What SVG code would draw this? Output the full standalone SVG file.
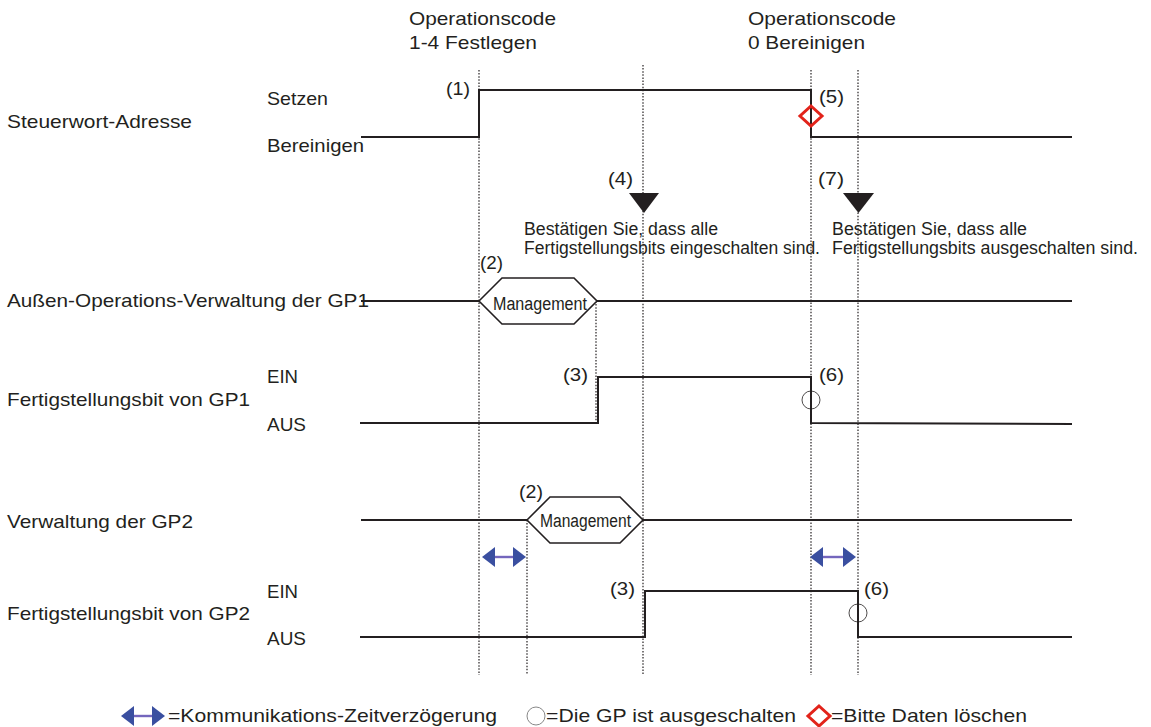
<svg xmlns="http://www.w3.org/2000/svg" width="1151" height="727" viewBox="0 0 1151 727">
<style>
text{font-family:"Liberation Sans",Arial,sans-serif;font-size:19px;fill:#231f20}
.mg{font-size:18px}
.cf{font-size:17.5px}
.sig{fill:none;stroke:#231f20;stroke-width:2}
.dot{fill:none;stroke:#231f20;stroke-width:1.2;stroke-dasharray:1.5 1.6}
.hex{fill:#fff;stroke:#231f20;stroke-width:1.6}
.off{fill:none;stroke:#231f20;stroke-width:0.8}
.clr{fill:none;stroke:#e2231a;stroke-width:3}
.tri{fill:#231f20}
.ah{fill:#3a4fa0}
.sh{stroke:#7466bd;stroke-width:2.4}
</style>
<rect width="1151" height="727" fill="#fff"/>
<g id="connectors">
<line class="dot" x1="479" y1="70" x2="479" y2="675"/>
<line class="dot" x1="527" y1="520" x2="527" y2="675"/>
<line class="dot" x1="596" y1="301" x2="596" y2="423"/>
<line class="dot" x1="643" y1="65" x2="643" y2="675"/>
<line class="dot" x1="811" y1="70" x2="811" y2="675"/>
<line class="dot" x1="858" y1="70" x2="858" y2="675"/>
</g>
<g id="headers">
<text x="409" y="25" textLength="147" lengthAdjust="spacingAndGlyphs">Operationscode</text>
<text x="409" y="49" textLength="128" lengthAdjust="spacingAndGlyphs">1-4 Festlegen</text>
<text x="748" y="25" textLength="148" lengthAdjust="spacingAndGlyphs">Operationscode</text>
<text x="748" y="49" textLength="117" lengthAdjust="spacingAndGlyphs">0 Bereinigen</text>
</g>
<g id="steuerwort">
<text x="7" y="128" textLength="185" lengthAdjust="spacingAndGlyphs">Steuerwort-Adresse</text>
<text x="267" y="105" textLength="61" lengthAdjust="spacingAndGlyphs">Setzen</text>
<text x="267" y="152" textLength="97" lengthAdjust="spacingAndGlyphs">Bereinigen</text>
<polyline class="sig" points="361,137 479,137 479,90 811,90 811,137 1072,137"/>
<text x="446" y="95" textLength="24" lengthAdjust="spacingAndGlyphs">(1)</text>
<text x="819" y="103" textLength="25" lengthAdjust="spacingAndGlyphs">(5)</text>
<polygon class="clr" points="811,106 822,116 811,126 800,116"/>
</g>
<g id="check4">
<text x="608" y="185" textLength="25" lengthAdjust="spacingAndGlyphs">(4)</text>
<polygon class="tri" points="629,193 659,193 644,213"/>
<text class="cf" x="524" y="235" textLength="194" lengthAdjust="spacingAndGlyphs">Bestätigen Sie, dass alle</text>
<text class="cf" x="524" y="254" textLength="296" lengthAdjust="spacingAndGlyphs">Fertigstellungsbits eingeschalten sind.</text>
</g>
<g id="check7">
<text x="818" y="185" textLength="26" lengthAdjust="spacingAndGlyphs">(7)</text>
<polygon class="tri" points="843,193 874,193 858.5,213"/>
<text class="cf" x="832" y="235" textLength="195" lengthAdjust="spacingAndGlyphs">Bestätigen Sie, dass alle</text>
<text class="cf" x="832" y="254" textLength="306" lengthAdjust="spacingAndGlyphs">Fertigstellungsbits ausgeschalten sind.</text>
</g>
<g id="mgmt-gp1">
<text x="7" y="307" textLength="362" lengthAdjust="spacingAndGlyphs">Außen-Operations-Verwaltung der GP1</text>
<line class="sig" x1="361" y1="301" x2="479" y2="301"/>
<line class="sig" x1="597" y1="301" x2="1072" y2="301"/>
<polygon class="hex" points="479,301 502,278 574,278 597,301 574,324 502,324"/>
<text class="mg" x="493" y="310" textLength="94" lengthAdjust="spacingAndGlyphs">Management</text>
<text x="480" y="269" textLength="23" lengthAdjust="spacingAndGlyphs">(2)</text>
</g>
<g id="bit-gp1">
<text x="267" y="383" textLength="31" lengthAdjust="spacingAndGlyphs">EIN</text>
<text x="7" y="406" textLength="243" lengthAdjust="spacingAndGlyphs">Fertigstellungsbit von GP1</text>
<text x="267" y="431" textLength="39" lengthAdjust="spacingAndGlyphs">AUS</text>
<polyline class="sig" points="360,423 598,423 598,377 811,377 811,423 1072,424"/>
<text x="563" y="381" textLength="25" lengthAdjust="spacingAndGlyphs">(3)</text>
<text x="819" y="381" textLength="25" lengthAdjust="spacingAndGlyphs">(6)</text>
<circle class="off" cx="811" cy="400" r="9"/>
</g>
<g id="mgmt-gp2">
<text x="7" y="528" textLength="186" lengthAdjust="spacingAndGlyphs">Verwaltung der GP2</text>
<line class="sig" x1="361" y1="520" x2="527" y2="520"/>
<line class="sig" x1="643" y1="520" x2="1072" y2="520"/>
<polygon class="hex" points="527,520 550,497 620,497 643,520 620,543 550,543"/>
<text class="mg" x="540" y="527" textLength="91" lengthAdjust="spacingAndGlyphs">Management</text>
<text x="519" y="498" textLength="24" lengthAdjust="spacingAndGlyphs">(2)</text>
</g>
<g id="delays">
<line class="sh" x1="494" y1="557" x2="514" y2="557"/>
<polygon class="ah" points="482,557 495,547 495,567"/>
<polygon class="ah" points="526,557 513,547 513,567"/>
<line class="sh" x1="822" y1="557" x2="844" y2="557"/>
<polygon class="ah" points="810,557 823,547 823,567"/>
<polygon class="ah" points="856,557 843,547 843,567"/>
</g>
<g id="bit-gp2">
<text x="267" y="598" textLength="31" lengthAdjust="spacingAndGlyphs">EIN</text>
<text x="7" y="620" textLength="243" lengthAdjust="spacingAndGlyphs">Fertigstellungsbit von GP2</text>
<text x="267" y="645" textLength="39" lengthAdjust="spacingAndGlyphs">AUS</text>
<polyline class="sig" points="360,637 645,637 645,591 858,591 858,637 1072,637"/>
<text x="610" y="595" textLength="25" lengthAdjust="spacingAndGlyphs">(3)</text>
<text x="864" y="595" textLength="25" lengthAdjust="spacingAndGlyphs">(6)</text>
<circle class="off" cx="858" cy="613" r="9"/>
</g>
<g id="legend">
<line class="sh" x1="132" y1="716" x2="154" y2="716"/>
<polygon class="ah" points="121,716 134,706 134,726"/>
<polygon class="ah" points="165,716 152,706 152,726"/>
<text x="168" y="722" textLength="329" lengthAdjust="spacingAndGlyphs">=Kommunikations-Zeitverzögerung</text>
<circle cx="536" cy="716" r="9" fill="none" stroke="#888" stroke-width="1"/>
<text x="546" y="722" textLength="250" lengthAdjust="spacingAndGlyphs">=Die GP ist ausgeschalten</text>
<polygon class="clr" points="819,706 830,716 819,726 808,716"/>
<text x="831" y="722" textLength="196" lengthAdjust="spacingAndGlyphs">=Bitte Daten löschen</text>
</g>
</svg>
